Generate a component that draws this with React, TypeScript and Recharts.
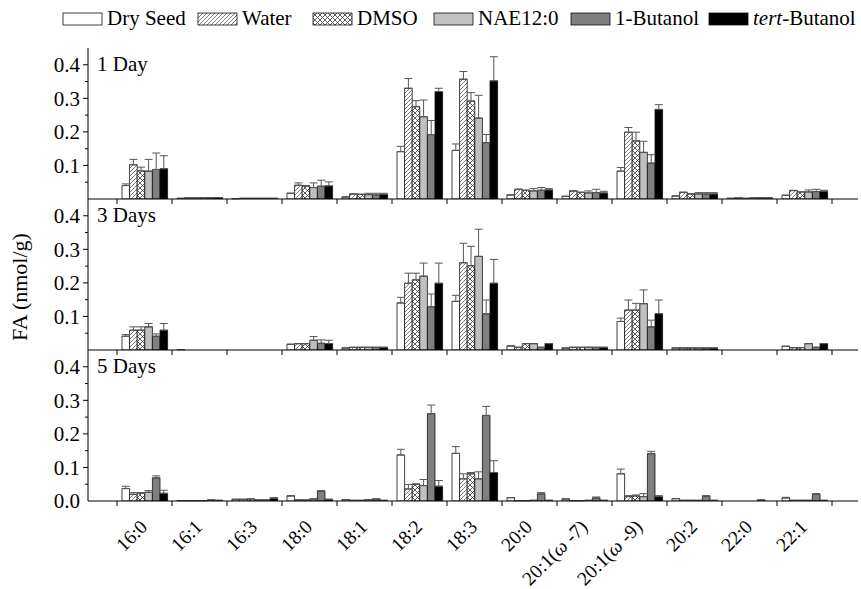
import React from 'react';
import { BarChart, Bar, XAxis, YAxis, ErrorBar } from 'recharts';

// fatty acid categories on the x axis
const CATEGORIES = ['16:0', '16:1', '16:3', '18:0', '18:1', '18:2', '18:3', '20:0', '20:1(ω-7)', '20:1(ω-9)', '20:2', '22:0', '22:1'];
const SERIES = ['Dry Seed', 'Water', 'DMSO', 'NAE12:0', '1-Butanol', 'tert-Butanol'];
const PANELS = ['1 Day', '3 Days', '5 Days'];

// 1 Day
const D1_DRY = [0.040, 0.002, 0.001, 0.017, 0.006, 0.141, 0.145, 0.012, 0.008, 0.083, 0.009, 0.002, 0.011];
const D1_DRY_ERR = [0.005, 0, 0, 0, 0, 0.016, 0.019, 0, 0, 0.011, 0, 0, 0];
const D1_WATER = [0.102, 0.003, 0.002, 0.041, 0.015, 0.330, 0.357, 0.029, 0.024, 0.199, 0.020, 0.003, 0.025];
const D1_WATER_ERR = [0.016, 0, 0, 0.007, 0, 0.029, 0.023, 0, 0, 0.014, 0, 0, 0.001];
const D1_DMSO = [0.084, 0.003, 0.002, 0.038, 0.014, 0.275, 0.292, 0.026, 0.020, 0.173, 0.015, 0.002, 0.021];
const D1_DMSO_ERR = [0.011, 0, 0, 0.002, 0, 0.018, 0.025, 0, 0, 0.026, 0, 0, 0];
const D1_NAE = [0.083, 0.004, 0.002, 0.034, 0.013, 0.245, 0.241, 0.024, 0.018, 0.139, 0.015, 0.003, 0.021];
const D1_NAE_ERR = [0.035, 0, 0, 0.014, 0.004, 0.050, 0.068, 0.007, 0.006, 0.033, 0.004, 0, 0.006];
const D1_BUT = [0.088, 0.004, 0.002, 0.038, 0.012, 0.192, 0.168, 0.026, 0.019, 0.107, 0.015, 0.004, 0.022];
const D1_BUT_ERR = [0.049, 0, 0, 0.018, 0.005, 0.042, 0.024, 0.008, 0.010, 0.025, 0.004, 0, 0.007];
const D1_TERT = [0.090, 0.004, 0.002, 0.039, 0.014, 0.320, 0.352, 0.027, 0.018, 0.267, 0.015, 0.003, 0.023];
const D1_TERT_ERR = [0.039, 0, 0, 0.012, 0.003, 0.010, 0.072, 0.004, 0.005, 0.014, 0.004, 0, 0.003];

// 3 Days
const D3_DRY = [0.041, 0.001, 0, 0.017, 0.006, 0.140, 0.145, 0.012, 0.006, 0.085, 0.006, 0, 0.011];
const D3_DRY_ERR = [0.005, 0, 0, 0, 0, 0.017, 0.018, 0, 0, 0.010, 0, 0, 0];
const D3_WATER = [0.059, 0, 0, 0.019, 0.008, 0.199, 0.260, 0.008, 0.008, 0.119, 0.006, 0, 0.007];
const D3_WATER_ERR = [0.010, 0, 0, 0, 0, 0.030, 0.058, 0, 0, 0.030, 0, 0, 0];
const D3_DMSO = [0.059, 0, 0, 0.019, 0.008, 0.209, 0.251, 0.019, 0.008, 0.119, 0.006, 0, 0.007];
const D3_DMSO_ERR = [0.010, 0, 0, 0, 0, 0.020, 0.058, 0, 0, 0.020, 0, 0, 0];
const D3_NAE = [0.069, 0, 0, 0.029, 0.008, 0.220, 0.279, 0.019, 0.008, 0.138, 0.006, 0, 0.019];
const D3_NAE_ERR = [0.010, 0, 0, 0.011, 0, 0.039, 0.081, 0, 0, 0.041, 0, 0, 0];
const D3_BUT = [0.041, 0, 0, 0.020, 0.008, 0.129, 0.108, 0.008, 0.008, 0.069, 0.006, 0, 0.008];
const D3_BUT_ERR = [0.007, 0, 0, 0.010, 0, 0.038, 0.041, 0, 0, 0.020, 0, 0, 0];
const D3_TERT = [0.059, 0, 0, 0.019, 0.008, 0.199, 0.199, 0.019, 0.008, 0.108, 0.006, 0, 0.019];
const D3_TERT_ERR = [0.020, 0, 0, 0.010, 0, 0.060, 0.071, 0, 0, 0.041, 0, 0, 0];

// 5 Days
const D5_DRY = [0.037, 0.001, 0.005, 0.015, 0.004, 0.137, 0.142, 0.010, 0.006, 0.081, 0.007, 0, 0.009];
const D5_DRY_ERR = [0.007, 0, 0, 0.001, 0, 0.017, 0.020, 0, 0, 0.014, 0, 0, 0.002];
const D5_WATER = [0.020, 0.001, 0.005, 0.003, 0.002, 0.036, 0.066, 0.001, 0.001, 0.013, 0.002, 0, 0.002];
const D5_WATER_ERR = [0.005, 0, 0, 0, 0, 0.013, 0.015, 0, 0, 0.003, 0, 0, 0];
const D5_DMSO = [0.023, 0.001, 0.006, 0.003, 0.002, 0.050, 0.081, 0.001, 0.001, 0.015, 0.002, 0, 0.002];
const D5_DMSO_ERR = [0.002, 0, 0, 0, 0, 0.001, 0.004, 0, 0, 0.003, 0, 0, 0];
const D5_NAE = [0.026, 0.001, 0.003, 0.006, 0.004, 0.046, 0.066, 0.002, 0.002, 0.013, 0.002, 0, 0.002];
const D5_NAE_ERR = [0.005, 0, 0, 0, 0, 0.018, 0.021, 0, 0, 0.009, 0, 0, 0];
const D5_BUT = [0.069, 0.003, 0.003, 0.029, 0.006, 0.260, 0.255, 0.021, 0.009, 0.141, 0.014, 0.003, 0.020];
const D5_BUT_ERR = [0.006, 0, 0, 0.002, 0, 0.026, 0.027, 0.004, 0.003, 0.007, 0.002, 0, 0.002];
const D5_TERT = [0.023, 0.002, 0.008, 0.005, 0.002, 0.044, 0.085, 0.002, 0.002, 0.013, 0.002, 0, 0.002];
const D5_TERT_ERR = [0.009, 0, 0.002, 0, 0, 0.017, 0.035, 0, 0, 0.003, 0, 0, 0];

const MAJOR_TICKS = [0, 0.1, 0.2, 0.3, 0.4];
const MINOR_TICKS = [0.05, 0.15, 0.25, 0.35];

const FILLS = ['#ffffff', 'url(#hatch)', 'url(#cross)', '#c0c0c0', '#7f7f7f', '#000000'];
const FONT = '"Liberation Serif", "Times New Roman", serif';

// plot frame
const PLOT_TOP = 48;
const PANEL_H = 151;
const BAND = 55;
const LEGEND_X = [63, 198, 313, 434, 571, 709];

const buildRows = (values: number[][], errs: number[][]) =>
  CATEGORIES.map((name, c) => {
    const row: any = { name };
    values.forEach((v, s) => {
      row[`s${s}`] = v[c];
      row[`e${s}`] = [0, errs[s][c]];
    });
    return row;
  });

const PANEL_ROWS = [
  buildRows([D1_DRY, D1_WATER, D1_DMSO, D1_NAE, D1_BUT, D1_TERT], [D1_DRY_ERR, D1_WATER_ERR, D1_DMSO_ERR, D1_NAE_ERR, D1_BUT_ERR, D1_TERT_ERR]),
  buildRows([D3_DRY, D3_WATER, D3_DMSO, D3_NAE, D3_BUT, D3_TERT], [D3_DRY_ERR, D3_WATER_ERR, D3_DMSO_ERR, D3_NAE_ERR, D3_BUT_ERR, D3_TERT_ERR]),
  buildRows([D5_DRY, D5_WATER, D5_DMSO, D5_NAE, D5_BUT, D5_TERT], [D5_DRY_ERR, D5_WATER_ERR, D5_DMSO_ERR, D5_NAE_ERR, D5_BUT_ERR, D5_TERT_ERR]),
];

// category label, with the omega in italics
const CatLabel = ({ text }: { text: string }) => {
  const i = text.indexOf('ω');
  if (i < 0) return <>{text}</>;
  return (
    <>
      {text.slice(0, i)}
      <tspan fontStyle="italic">ω</tspan>
      {' ' + text.slice(i + 1)}
    </>
  );
};

const CatTick = (props: any) => {
  const { x, y, payload, index, showLabel } = props;
  const isLast = index === CATEGORIES.length - 1;
  const lx = x + 4;
  const ly = y + 27;
  return (
    <g>
      <line x1={x - BAND / 2} x2={x - BAND / 2} y1={y} y2={y + 5} stroke="#000" />
      {isLast && <line x1={x + BAND / 2} x2={x + BAND / 2} y1={y} y2={y + 5} stroke="#000" />}
      {showLabel && (
        <text x={lx} y={ly} textAnchor="end" fontSize={19.5} fill="#000" transform={`rotate(-45, ${lx}, ${ly})`}>
          <CatLabel text={payload.value} />
        </text>
      )}
    </g>
  );
};

const ValTick = (props: any) => {
  const { x, y, payload, showZero } = props;
  const v = payload.value;
  const major = MAJOR_TICKS.includes(v);
  if (v === 0 && !showZero) return null;
  return (
    <g>
      {v !== 0 && <line x1={x} x2={x - (major ? 5 : 3)} y1={y} y2={y} stroke="#000" />}
      {major && (
        <text x={x - 8} y={y} dy="0.35em" textAnchor="end" fontSize={21} fill="#000">
          {v.toFixed(1)}
        </text>
      )}
    </g>
  );
};

const Panel = ({ index }: { index: number }) => {
  const last = index === PANELS.length - 1;
  const axisH = last ? 100 : 8;
  const top = PLOT_TOP + PANEL_H * index;
  return (
    <div style={{ position: 'absolute', left: 0, top: top - 10 }}>
      <BarChart
        width={861}
        height={10 + PANEL_H + axisH}
        data={PANEL_ROWS[index]}
        margin={{ top: 10, right: 3, bottom: 0, left: 0 }}
        barGap={0}
        barSize={7.6}
      >
        <XAxis
          dataKey="name"
          interval={0}
          padding={{ left: 29, right: 26 }}
          height={axisH}
          tickSize={0}
          tickMargin={0}
          tickLine={false}
          axisLine={{ stroke: '#000' }}
          tick={<CatTick showLabel={last} />}
        />
        <XAxis xAxisId="top" dataKey="name" orientation="top" height={0} tick={false} tickLine={false} axisLine={{ stroke: '#000' }} />
        <YAxis
          domain={[0, 0.45]}
          allowDataOverflow
          ticks={[...MAJOR_TICKS, ...MINOR_TICKS].sort((a, b) => a - b)}
          interval={0}
          width={88}
          tickSize={0}
          tickMargin={0}
          tickLine={false}
          axisLine={{ stroke: '#000' }}
          tick={<ValTick showZero={last} />}
        />
        <YAxis yAxisId="right" orientation="right" width={0} tick={false} tickLine={false} axisLine={{ stroke: '#000' }} />
        {SERIES.map((s, i) => (
          <Bar key={s} dataKey={`s${i}`} name={s} fill={FILLS[i]} stroke="#111" strokeWidth={0.8} isAnimationActive={false}>
            <ErrorBar dataKey={`e${i}`} width={4} stroke="#555" strokeWidth={1} direction="y" />
          </Bar>
        ))}
      </BarChart>
    </div>
  );
};

export default function App() {
  return (
    <div style={{ position: 'absolute', left: 0, top: 0, width: 861, height: 589, overflow: 'hidden', background: '#fff', fontFamily: FONT }}>
      <svg width={0} height={0} style={{ position: 'absolute' }}>
        <defs>
          <pattern id="hatch" patternUnits="userSpaceOnUse" width={4} height={4}>
            <rect width={4} height={4} fill="#fff" />
            <path d="M-1,1 l2,-2 M0,4 l4,-4 M3,5 l2,-2" stroke="#444" strokeWidth={0.7} />
          </pattern>
          <pattern id="cross" patternUnits="userSpaceOnUse" width={5} height={5}>
            <rect width={5} height={5} fill="#fff" />
            <path d="M-1,1 l2,-2 M0,5 l5,-5 M4,6 l2,-2 M-1,4 l2,2 M0,0 l5,5 M4,-1 l2,2" stroke="#333" strokeWidth={0.8} />
          </pattern>
        </defs>
      </svg>
      {PANELS.map((p, i) => (
        <Panel key={p} index={i} />
      ))}
      <svg width={861} height={589} style={{ position: 'absolute', left: 0, top: 0, pointerEvents: 'none' }}>
        {SERIES.map((s, i) => (
          <g key={s}>
            <rect x={LEGEND_X[i]} y={13} width={39} height={12} fill={FILLS[i]} stroke="#111" strokeWidth={0.8} />
            <text x={LEGEND_X[i] + 44} y={25} fontSize={21} fill="#000">
              {s.startsWith('tert') ? (
                <>
                  <tspan fontStyle="italic">tert</tspan>
                  {s.slice(4)}
                </>
              ) : (
                s
              )}
            </text>
          </g>
        ))}
        {PANELS.map((p, i) => (
          <text key={p} x={97} y={PLOT_TOP + PANEL_H * i + 23} fontSize={21} fill="#000">
            {p}
          </text>
        ))}
        <text x={0} y={0} transform="translate(27, 287) rotate(-90)" textAnchor="middle" fontSize={22} fill="#000">
          FA (nmol/g)
        </text>
      </svg>
    </div>
  );
}
